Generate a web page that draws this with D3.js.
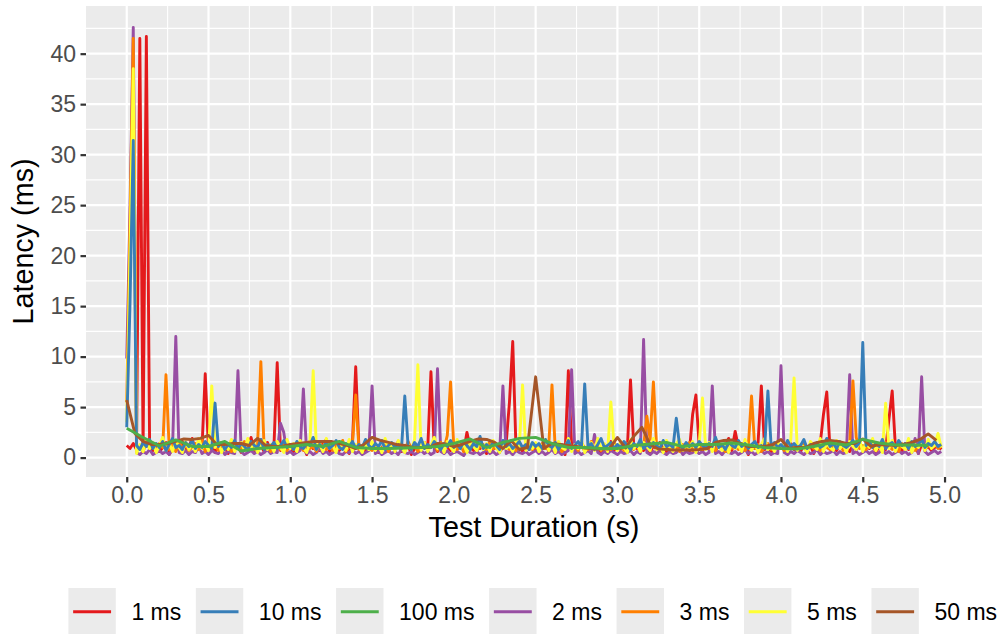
<!DOCTYPE html>
<html>
<head>
<meta charset="utf-8">
<script src="https://cdn.jsdelivr.net/npm/d3@7"></script>
<style>
  html, body { margin: 0; padding: 0; background: #fff; }
  svg { display: block; font-family: "Liberation Sans", Arial, Helvetica, sans-serif; }
</style>
</head>
<body>
<svg id="chart" width="999" height="634"></svg>
<script>
// Legend / factor order of the series (alphabetical, as in the legend)
const seriesNames = ["1 ms", "10 ms", "100 ms", "2 ms", "3 ms", "5 ms", "50 ms"];
const seriesColors = ["#E41A1C", "#377EB8", "#4DAF4A", "#984EA3", "#FF7F00", "#FFFF33", "#A65628"];
// Order in which the lines are painted (numeric interval order)
const drawOrder = ["1 ms", "2 ms", "3 ms", "5 ms", "10 ms", "50 ms", "100 ms"];
// Time between stored samples for each series, in seconds
const sampleStep = [0.02, 0.02, 0.1, 0.02, 0.02, 0.02, 0.05];

const xTicks = [0, 0.5, 1, 1.5, 2, 2.5, 3, 3.5, 4, 4.5, 5];
const yTicks = [0, 5, 10, 15, 20, 25, 30, 35, 40];

// Latency samples (ms)
const lat1ms = [
  1.2, 0.9, 1.4, 0.8, 41.5, 0.9, 41.7, 1.1, 0.7, 1.3, 0.6, 1.0, 1.5, 0.3, 0.9, 1.2, 0.7, 1.6, 0.8, 1.1, 1.9, 0.6, 1.3, 0.9, 8.3,
  0.7, 1.2, 0.5, 1.4, 0.9, 1.0, 0.4, 1.7, 0.8, 1.1, 0.5, 1.3, 0.9, 2.0, 0.7, 1.0, 1.2, 0.6, 1.5, 0.8, 1.1, 9.4, 0.7, 1.3, 0.9,
  1.0, 0.6, 1.4, 0.8, 1.2, 0.3, 1.6, 0.9, 1.1, 0.7, 1.3, 1.8, 0.6, 1.0, 1.4, 0.7, 1.2, 0.9, 0.4, 1.5, 9.0, 0.8, 1.1, 0.6, 1.3,
  0.9, 1.2, 0.5, 1.0, 1.4, 0.7, 1.1, 0.8, 1.6, 0.6, 1.0, 1.3, 0.3, 0.9, 1.2, 0.7, 1.5, 0.8, 8.5, 1.0, 0.6, 1.3, 0.9, 1.1, 0.7,
  1.2, 0.8, 1.4, 0.6, 2.5, 1.0, 0.7, 1.3, 0.9, 1.1, 0.4, 1.5, 0.8, 1.2, 0.6, 1.0, 1.4, 5.5, 11.5, 0.9, 1.1, 0.6, 1.3, 0.8, 1.0,
  0.7, 1.2, 0.9, 1.5, 0.6, 1.0, 1.3, 0.8, 1.1, 0.3, 8.6, 1.2, 0.7, 1.0, 1.4, 0.6, 0.9, 1.3, 0.8, 1.1, 0.5, 1.2, 0.9, 1.6, 0.7,
  1.0, 0.8, 1.3, 0.6, 7.7, 1.1, 0.9, 1.4, 0.7, 1.0, 0.4, 1.2, 0.8, 1.5, 0.9, 0.6, 1.1, 1.3, 0.7, 1.0, 0.8, 1.2, 0.6, 4.3, 6.2,
  1.1, 0.7, 1.3, 0.9, 1.0, 0.6, 1.4, 0.8, 1.2, 1.9, 0.7, 2.6, 1.0, 0.8, 1.3, 0.3, 1.1, 0.9, 1.5, 7.1, 0.8, 1.2, 0.6, 1.0, 1.3,
  0.9, 1.1, 0.7, 1.4, 0.8, 1.0, 0.6, 1.3, 0.9, 1.2, 0.4, 1.0, 1.4, 4.3, 6.5, 0.8, 1.1, 0.7, 1.3, 0.9, 1.0, 0.6, 1.2, 0.8, 1.5,
  0.7, 1.1, 0.9, 1.3, 0.6, 1.0, 1.2, 0.8, 3.8, 6.6, 0.9, 1.1, 0.7, 1.4, 0.8, 1.0, 1.2, 0.4, 1.3, 0.9, 1.1, 0.7, 1.0, 1.2, 0.8
];
const lat10ms = [
  3.0, 15.2, 31.4, 1.2, 0.8, 1.5, 1.1, 1.8, 0.9, 1.4, 1.0, 1.6, 0.7, 1.3, 1.9, 1.0, 1.2, 0.8, 1.5, 1.1, 1.7, 0.9, 1.3, 1.0, 1.6,
  1.2, 0.9, 5.4, 1.1, 1.5, 0.8, 1.3, 1.0, 1.7, 0.9, 1.4, 1.1, 0.7, 1.6, 1.2, 1.0, 1.8, 0.8, 1.3, 1.1, 1.5, 0.9, 1.2, 1.7, 1.0,
  1.3, 0.8, 1.6, 1.1, 0.9, 1.4, 1.2, 2.0, 0.8, 1.3, 1.0, 1.5, 0.9, 1.2, 1.7, 1.0, 0.8, 1.4, 1.1, 1.6, 0.9, 1.3, 1.0, 1.8, 1.2,
  0.9, 1.4, 1.1, 1.7, 0.8, 1.2, 1.5, 1.0, 1.3, 0.9, 6.1, 1.2, 0.8, 1.5, 1.1, 1.9, 0.9, 1.3, 1.0, 1.6, 1.2, 0.8, 1.4, 1.1, 1.7,
  1.0, 1.3, 0.9, 1.6, 1.2, 0.8, 1.4, 1.1, 2.1, 0.9, 1.3, 1.0, 1.5, 1.2, 0.8, 1.7, 1.1, 1.4, 0.9, 1.2, 1.6, 1.0, 1.3, 0.8, 1.5,
  1.1, 1.4, 0.9, 1.8, 1.2, 1.0, 1.5, 0.8, 1.3, 1.1, 1.7, 0.9, 1.2, 1.6, 1.0, 7.3, 1.1, 1.4, 0.8, 1.3, 1.9, 1.0, 1.2, 1.5, 0.9,
  1.3, 1.0, 1.6, 1.2, 0.8, 1.4, 1.1, 1.8, 0.9, 1.3, 1.0, 1.5, 1.2, 0.9, 1.7, 1.1, 1.3, 1.0, 3.9, 1.2, 0.9, 1.5, 1.1, 1.4, 1.0,
  1.6, 1.2, 0.9, 1.4, 1.1, 2.0, 1.0, 1.3, 0.8, 1.5, 1.2, 1.0, 1.7, 1.1, 1.4, 0.9, 1.3, 1.6, 1.0, 1.2, 0.9, 6.6, 1.1, 1.5, 1.0,
  1.3, 0.9, 1.7, 1.1, 1.4, 1.0, 1.2, 1.8, 0.9, 1.3, 1.1, 1.5, 1.0, 1.2, 1.9, 1.1, 1.4, 0.9, 1.6, 1.2, 1.0, 1.3, 1.7, 1.1, 1.5,
  11.4, 1.2, 1.6, 1.0, 1.4, 1.1, 1.8, 0.9, 1.3, 1.5, 1.0, 1.7, 1.2, 1.4, 0.9, 1.6, 1.1, 1.3, 1.8, 1.0, 1.4, 1.2, 1.6, 1.1, 1.3
];
const lat100ms = [
  2.9, 2.0, 1.15, 1.75, 1.1, 1.1, 1.6, 0.65, 0.9, 1.0,
  1.1, 1.3, 1.1, 1.6, 1.0, 0.9, 0.9, 0.95, 1.0, 1.1,
  1.4, 1.85, 1.0, 1.5, 1.9, 2.0, 1.4, 1.0, 1.0, 0.9,
  0.9, 1.2, 1.35, 1.5, 1.1, 1.3, 1.3, 1.45, 1.25, 1.0,
  0.9, 0.85, 1.1, 1.45, 1.25, 1.8, 1.45, 1.25, 1.25, 1.2
];
const lat2ms = [
  9.8, 24.5, 42.6, 0.5, 0.3, 0.6, 0.4, 0.8, 0.3, 0.5, 0.7, 0.4, 0.6, 0.3, 0.9, 12.0, 0.5, 0.4, 0.7, 0.3, 0.6, 0.5, 1.2, 0.4, 0.6,
  0.3, 0.7, 0.5, 0.4, 0.8, 0.3, 0.6, 0.5, 0.4, 8.6, 0.6, 0.3, 0.5, 0.7, 0.4, 0.6, 0.3, 0.5, 0.8, 0.4, 0.6, 0.5, 3.4, 2.5, 0.4,
  0.6, 0.3, 0.5, 0.7, 6.8, 0.4, 0.6, 0.3, 0.5, 0.9, 0.4, 0.6, 0.3, 0.5, 0.7, 0.4, 0.3, 0.6, 0.5, 0.8, 0.4, 0.6, 0.3, 0.5, 0.7,
  7.1, 0.4, 0.6, 0.3, 0.5, 0.7, 0.4, 0.6, 0.3, 0.8, 0.5, 0.4, 0.6, 0.3, 0.5, 0.7, 0.4, 0.6, 0.3, 0.5, 8.8, 0.6, 0.4, 0.7, 0.3,
  0.5, 0.6, 0.4, 0.2, 0.7, 0.5, 0.4, 0.6, 0.3, 0.5, 0.8, 0.4, 0.6, 0.3, 0.5, 7.1, 0.4, 0.6, 0.3, 0.7, 0.5, 0.4, 0.6, 0.3, 0.5,
  0.7, 0.4, 0.6, 0.3, 0.5, 0.8, 0.4, 0.6, 0.3, 0.5, 0.7, 8.7, 0.4, 0.6, 0.3, 0.5, 0.7, 0.4, 2.3, 0.5, 0.3, 0.6, 0.4, 0.7, 0.5,
  0.3, 0.6, 0.4, 0.5, 0.7, 0.3, 0.6, 0.4, 11.7, 0.5, 0.3, 0.6, 0.4, 0.7, 0.5, 0.3, 0.6, 0.4, 0.5, 0.8, 0.3, 0.6, 0.4, 0.5, 0.7,
  0.4, 0.6, 0.3, 0.5, 7.1, 0.4, 0.6, 0.3, 0.7, 0.5, 0.4, 0.6, 0.3, 0.5, 0.8, 0.4, 0.6, 0.3, 0.5, 0.7, 0.4, 0.6, 0.3, 0.5, 0.4,
  9.1, 0.5, 0.3, 0.6, 0.4, 0.7, 0.5, 0.3, 0.6, 0.4, 0.5, 0.8, 0.3, 0.6, 0.4, 0.5, 0.7, 0.3, 0.6, 0.4, 0.5, 8.2, 0.4, 0.6, 0.3,
  0.5, 0.7, 0.4, 0.6, 0.3, 0.5, 0.8, 0.4, 0.6, 0.3, 0.5, 0.7, 0.4, 0.6, 0.3, 0.5, 1.9, 0.4, 8.0, 0.6, 0.3, 0.5, 0.7, 0.4, 0.6
];
const lat3ms = [
  5.5, 23.0, 41.5, 0.8, 1.2, 0.6, 1.5, 0.9, 1.1, 0.7, 1.4, 1.0, 8.2, 0.8, 1.3, 0.6, 1.6, 0.9, 1.2, 0.7, 1.0, 1.4, 0.8, 1.7, 0.6,
  1.1, 0.9, 1.3, 0.7, 1.5, 0.8, 1.2, 0.6, 1.0, 1.4, 0.9, 1.6, 0.7, 1.1, 0.8, 1.3, 9.5, 0.9, 1.2, 0.6, 1.4, 1.0, 0.8, 1.5, 0.7,
  1.2, 0.8, 1.0, 1.6, 0.7, 1.3, 0.9, 1.1, 0.6, 1.5, 1.0, 0.8, 1.4, 0.7, 1.2, 0.9, 1.7, 0.6, 1.1, 1.3, 6.2, 0.8, 1.0, 1.4, 0.9,
  0.7, 1.3, 1.0, 0.8, 1.5, 0.6, 1.2, 0.9, 1.4, 1.1, 0.7, 1.6, 0.9, 1.2, 0.6, 1.0, 1.4, 0.8, 1.1, 1.3, 0.7, 1.5, 0.9, 2.2, 7.5,
  1.0, 0.8, 1.4, 0.6, 1.2, 0.9, 1.5, 0.7, 1.1, 1.3, 0.8, 1.6, 0.9, 1.0, 0.6, 1.4, 1.2, 0.8, 1.1, 0.7, 1.5, 0.9, 1.3, 1.0, 0.8,
  1.2, 0.7, 1.4, 0.9, 1.1, 7.2, 0.8, 1.3, 0.6, 1.0, 1.5, 0.9, 1.2, 0.7, 1.4, 1.0, 0.8, 1.6, 0.9, 1.1, 0.7, 1.3, 1.0, 0.8, 1.5,
  0.9, 1.2, 0.7, 1.4, 1.0, 0.8, 1.3, 0.6, 1.1, 4.1, 1.8, 7.5, 0.9, 1.2, 0.7, 1.0, 1.4, 0.8, 1.1, 0.6, 1.3, 0.9, 1.5, 0.7, 1.0,
  1.2, 0.8, 1.4, 0.9, 1.1, 0.7, 1.3, 1.0, 0.6, 1.5, 0.9, 1.2, 0.8, 1.4, 0.7, 1.1, 6.1, 0.9, 1.3, 0.6, 1.0, 1.4, 0.8, 1.2, 0.9,
  1.1, 0.7, 1.5, 0.9, 1.2, 0.8, 1.0, 1.4, 0.6, 1.3, 0.9, 1.1, 0.7, 1.6, 1.0, 0.8, 1.2, 0.9, 1.4, 0.7, 1.1, 1.3, 7.6, 2.0, 0.9,
  1.2, 0.8, 1.4, 1.0, 0.7, 1.3, 0.9, 1.5, 1.1, 0.8, 1.2, 0.6, 1.4, 1.0, 0.9, 1.3, 0.7, 1.1, 1.5, 0.8, 1.2, 1.0, 1.4, 0.9, 1.1
];
const lat5ms = [
  3.5, 20.5, 38.5, 0.4, 1.3, 0.6, 1.8, 0.9, 1.5, 0.5, 1.2, 2.0, 0.7, 1.4, 0.6, 1.7, 1.0, 0.5, 1.6, 0.8, 1.3, 0.6, 1.9, 0.9, 1.4,
  0.7, 7.1, 1.0, 1.6, 0.5, 1.3, 0.8, 1.8, 0.6, 1.2, 1.5, 0.7, 1.9, 0.9, 1.4, 0.5, 1.1, 1.7, 0.8, 1.3, 0.6, 1.6, 1.0, 0.5, 1.8,
  0.9, 1.4, 0.6, 1.7, 1.0, 0.5, 1.5, 8.6, 0.8, 1.3, 0.6, 1.9, 0.9, 1.2, 0.5, 1.6, 1.0, 0.7, 1.8, 0.6, 1.3, 1.1, 0.5, 1.5, 0.8,
  1.6, 0.7, 1.2, 0.5, 1.9, 0.9, 1.4, 0.6, 1.7, 1.0, 0.5, 1.3, 0.8, 1.8, 9.2, 0.7, 1.5, 0.6, 1.2, 2.0, 0.9, 1.4, 0.5, 1.6, 1.0,
  0.6, 1.8, 0.9, 1.3, 0.5, 1.6, 1.1, 0.7, 1.9, 0.8, 1.4, 0.6, 1.7, 1.0, 0.5, 1.5, 0.9, 1.2, 0.6, 1.8, 1.0, 7.2, 0.7, 1.4, 0.9,
  1.5, 0.6, 1.2, 1.8, 0.7, 1.4, 0.5, 1.6, 1.0, 0.8, 1.9, 0.6, 1.3, 0.9, 1.7, 0.5, 1.2, 1.5, 0.7, 1.9, 0.8, 1.4, 0.6, 5.5, 1.1,
  0.7, 1.6, 1.0, 0.5, 1.8, 0.9, 1.3, 0.6, 1.5, 1.1, 0.7, 1.9, 0.8, 1.2, 0.5, 1.7, 1.0, 0.6, 1.4, 1.8, 0.7, 1.2, 0.9, 1.6, 0.5,
  1.3, 5.9, 0.8, 1.5, 0.6, 1.9, 1.0, 0.7, 1.4, 0.5, 1.7, 0.9, 1.2, 0.6, 1.8, 1.0, 0.7, 1.5, 0.5, 1.3, 1.9, 0.8, 1.2, 0.6, 1.6,
  0.9, 1.4, 0.6, 1.8, 7.9, 0.7, 1.3, 1.0, 0.5, 1.6, 1.2, 0.8, 1.9, 0.6, 1.4, 1.0, 0.7, 1.7, 0.9, 1.3, 0.5, 1.6, 1.1, 0.8, 1.8,
  0.6, 1.5, 1.0, 1.9, 0.7, 1.3, 0.5, 5.4, 0.9, 1.7, 0.6, 1.4, 1.1, 0.8, 1.9, 0.5, 1.3, 1.0, 1.6, 0.7, 1.8, 0.9, 1.2, 2.4, 1.0
];
const lat50ms = [
  5.7, 2.4, 1.6, 1.3, 1.3, 1.4, 1.6, 1.85, 1.8, 1.9,
  2.2, 1.3, 1.3, 1.4, 1.4, 1.2, 1.9, 1.2, 1.1, 1.1,
  1.3, 1.4, 1.5, 1.6, 1.6, 1.6, 1.4, 1.2, 0.9, 1.3,
  2.0, 1.7, 1.5, 1.3, 1.2, 1.0, 1.0, 1.0, 1.4, 1.35,
  1.1, 1.3, 1.6, 1.85, 1.8, 1.5, 0.9, 1.7, 0.8, 1.0,
  8.0, 0.9, 1.4, 1.3, 1.2, 1.1, 0.95, 0.86, 0.86, 0.86,
  2.0, 0.95, 2.1, 3.0, 1.3, 0.86, 0.8, 0.75, 0.75, 0.75,
  0.8, 0.9, 1.5, 1.7, 1.75, 1.4, 1.1, 1.1, 1.1, 1.3,
  1.8, 0.9, 1.0, 1.0, 1.4, 1.6, 1.7, 1.6, 1.4, 1.4,
  1.85, 1.1, 1.3, 1.25, 1.2, 1.3, 1.5, 1.8, 2.35, 1.7
];
const seriesValues = [lat1ms, lat10ms, lat100ms, lat2ms, lat3ms, lat5ms, lat50ms];

// ---- build the series ----
const series = seriesNames.map((name, k) => ({
  name,
  color: seriesColors[k],
  points: seriesValues[k].map((v, i) => ({ t: +(i * sampleStep[k]).toFixed(3), v }))
}));
const byName = new Map(series.map(s => [s.name, s]));

// ---- layout ----
const W = 999, H = 634;
const panel = { left: 86, right: 982, top: 6, bottom: 477 };
const font = '"Liberation Sans", Arial, Helvetica, sans-serif';
const lineWidth = 2.9;

const allPts = series.flatMap(s => s.points);
function expand([a, b], f) { const d = (b - a) * f; return [a - d, b + d]; }
const x = d3.scaleLinear()
  .domain(expand(d3.extent(allPts, d => d.t), 0.05))
  .range([panel.left, panel.right]);
const y = d3.scaleLinear()
  .domain(expand(d3.extent(allPts, d => d.v), 0.05))
  .range([panel.bottom, panel.top]);

const svg = d3.select("#chart");
svg.append("rect").attr("width", W).attr("height", H).attr("fill", "#ffffff");

// panel background
svg.append("rect")
  .attr("x", panel.left).attr("y", panel.top)
  .attr("width", panel.right - panel.left).attr("height", panel.bottom - panel.top)
  .attr("fill", "#EBEBEB");

// minor grid (midpoints between major breaks)
const xd = x.domain(), yd = y.domain();
const xMinor = d3.range(-0.25, 5.5, 0.5).filter(v => v >= xd[0] && v <= xd[1]);
const yMinor = d3.range(-2.5, 45, 5).filter(v => v >= yd[0] && v <= yd[1]);
const grid = svg.append("g");
grid.selectAll(".xminor").data(xMinor).join("line")
  .attr("x1", d => x(d)).attr("x2", d => x(d))
  .attr("y1", panel.top).attr("y2", panel.bottom)
  .attr("stroke", "#fff").attr("stroke-width", 1.1);
grid.selectAll(".yminor").data(yMinor).join("line")
  .attr("y1", d => y(d)).attr("y2", d => y(d))
  .attr("x1", panel.left).attr("x2", panel.right)
  .attr("stroke", "#fff").attr("stroke-width", 1.1);
grid.selectAll(".xmajor").data(xTicks).join("line")
  .attr("x1", d => x(d)).attr("x2", d => x(d))
  .attr("y1", panel.top).attr("y2", panel.bottom)
  .attr("stroke", "#fff").attr("stroke-width", 2.2);
grid.selectAll(".ymajor").data(yTicks).join("line")
  .attr("y1", d => y(d)).attr("y2", d => y(d))
  .attr("x1", panel.left).attr("x2", panel.right)
  .attr("stroke", "#fff").attr("stroke-width", 2.2);

// data lines
svg.append("clipPath").attr("id", "panelClip").append("rect")
  .attr("x", panel.left).attr("y", panel.top)
  .attr("width", panel.right - panel.left).attr("height", panel.bottom - panel.top);
const line = d3.line().x(d => x(d.t)).y(d => y(d.v));
svg.append("g").attr("clip-path", "url(#panelClip)")
  .selectAll("path")
  .data(drawOrder.map(n => byName.get(n)))
  .join("path")
  .attr("d", s => line(s.points))
  .attr("fill", "none")
  .attr("stroke", s => s.color)
  .attr("stroke-width", lineWidth)
  .attr("stroke-linejoin", "round");

// axes
const tickLen = 5.5, tickPad = 4.4;
const xAxis = svg.append("g")
  .attr("transform", `translate(0,${panel.bottom})`)
  .call(d3.axisBottom(x).tickValues(xTicks).tickFormat(d3.format(".1f"))
    .tickSize(tickLen).tickPadding(tickPad));
const yAxis = svg.append("g")
  .attr("transform", `translate(${panel.left},0)`)
  .call(d3.axisLeft(y).tickValues(yTicks).tickFormat(d3.format("d"))
    .tickSize(tickLen).tickPadding(tickPad));
[xAxis, yAxis].forEach(g => {
  g.select(".domain").remove();
  g.selectAll(".tick line").attr("stroke", "#333333").attr("stroke-width", 2.2);
  g.selectAll(".tick text").attr("fill", "#4D4D4D")
    .style("font-family", font).style("font-size", "23px");
});

// axis titles
svg.append("text")
  .attr("x", (panel.left + panel.right) / 2).attr("y", 537)
  .attr("text-anchor", "middle")
  .style("font-family", font).style("font-size", "28.75px").attr("fill", "#000")
  .text("Test Duration (s)");
svg.append("text")
  .attr("transform", `translate(33,${(panel.top + panel.bottom) / 2}) rotate(-90)`)
  .attr("text-anchor", "middle")
  .style("font-family", font).style("font-size", "28.75px").attr("fill", "#000")
  .text("Latency (ms)");

// legend (bottom, horizontal)
const keySize = 47.4, keyTop = 588, textGap = 15.6, itemGap = 14.6;
const legend = svg.append("g");
let lx = 68.4;
series.forEach(s => {
  const g = legend.append("g");
  g.append("rect").attr("x", lx).attr("y", keyTop)
    .attr("width", keySize).attr("height", keySize).attr("fill", "#EBEBEB");
  g.append("line")
    .attr("x1", lx + keySize * 0.1).attr("x2", lx + keySize * 0.9)
    .attr("y1", keyTop + keySize / 2).attr("y2", keySize / 2 + keyTop)
    .attr("stroke", s.color).attr("stroke-width", lineWidth);
  const t = g.append("text")
    .attr("x", lx + keySize + textGap).attr("y", keyTop + keySize / 2)
    .attr("dy", "0.35em")
    .style("font-family", font).style("font-size", "23px").attr("fill", "#000")
    .text(s.name);
  lx = lx + keySize + textGap + t.node().getComputedTextLength() + itemGap;
});
</script>
</body>
</html>
